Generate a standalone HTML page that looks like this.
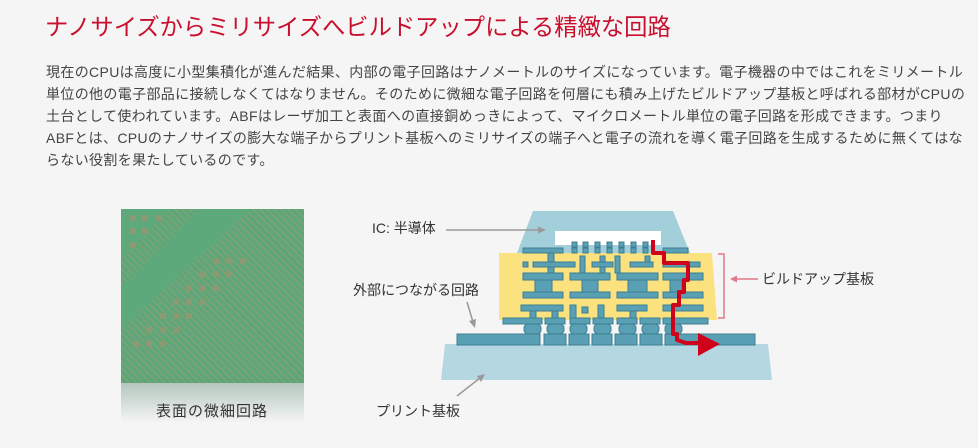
<!DOCTYPE html>
<html><head><meta charset="utf-8"><style>
body{margin:0;width:978px;height:448px;background:#f5f5f5;overflow:hidden;position:relative;font-family:"Liberation Sans","Noto Sans CJK JP",sans-serif;}
h1{position:absolute;left:45px;top:8px;margin:0;font-size:23.3px;font-weight:normal;color:#c8102e;white-space:nowrap;}
.p{position:absolute;left:46px;top:61px;font-size:14px;letter-spacing:0.35px;line-height:22px;color:#444;}
.p div{white-space:nowrap;}
svg{position:absolute;left:0;top:0;}
</style></head><body>
<h1>ナノサイズからミリサイズへビルドアップによる精緻な回路</h1>
<div class="p">
<div>現在のCPUは高度に小型集積化が進んだ結果、内部の電子回路はナノメートルのサイズになっています。電子機器の中ではこれをミリメートル</div>
<div>単位の他の電子部品に接続しなくてはなりません。そのために微細な電子回路を何層にも積み上げたビルドアップ基板と呼ばれる部材がCPUの</div>
<div>土台として使われています。ABFはレーザ加工と表面への直接銅めっきによって、マイクロメートル単位の電子回路を形成できます。つまり</div>
<div>ABFとは、CPUのナノサイズの膨大な端子からプリント基板へのミリサイズの端子へと電子の流れを導く電子回路を生成するために無くてはな</div>
<div>らない役割を果たしているのです。</div>
</div>
<svg width="978" height="448" viewBox="0 0 978 448">
<defs>
<linearGradient id="fade" x1="0" y1="0" x2="0" y2="1">
<stop offset="0" stop-color="#8aa89a"/><stop offset="1" stop-color="#f5f5f5"/>
</linearGradient>
<pattern id="lines" width="5" height="5" patternUnits="userSpaceOnUse" patternTransform="rotate(-45)">
<rect width="5" height="5" fill="#5aa67a"/><rect width="1.5" height="5" fill="#88a070"/>
</pattern>
</defs>
<rect x="121" y="209" width="183" height="174" fill="#5ea97c"/>
<polygon points="121,330 250,209 304,209 304,383 121,383" fill="url(#lines)" opacity="0.85"/>
<polygon points="121,260 170,209 200,209 121,288" fill="url(#lines)" opacity="0.8"/>
<g fill="#8b9a72">
<rect x="130" y="215" width="6" height="6"/><rect x="142" y="215" width="6" height="6"/><rect x="156" y="215" width="6" height="6"/>
<rect x="130" y="228" width="6" height="6"/><rect x="142" y="228" width="6" height="6"/><rect x="130" y="242" width="6" height="6"/>
<rect x="213" y="258" width="6" height="6"/><rect x="226" y="258" width="6" height="6"/><rect x="240" y="258" width="6" height="6"/>
<rect x="200" y="271" width="6" height="6"/><rect x="213" y="271" width="6" height="6"/><rect x="226" y="271" width="6" height="6"/>
<rect x="186" y="285" width="6" height="6"/><rect x="200" y="285" width="6" height="6"/><rect x="213" y="285" width="6" height="6"/>
<rect x="173" y="299" width="6" height="6"/><rect x="186" y="299" width="6" height="6"/><rect x="200" y="299" width="6" height="6"/>
<rect x="160" y="313" width="6" height="6"/><rect x="173" y="313" width="6" height="6"/><rect x="186" y="313" width="6" height="6"/>
<rect x="146" y="327" width="6" height="6"/><rect x="160" y="327" width="6" height="6"/><rect x="173" y="327" width="6" height="6"/>
<rect x="133" y="341" width="6" height="6"/><rect x="146" y="341" width="6" height="6"/><rect x="160" y="341" width="6" height="6"/>
</g>
<rect x="121" y="383" width="183" height="40" fill="url(#fade)" opacity="0.6"/>
<text x="212" y="416" font-size="15" text-anchor="middle" fill="#333" letter-spacing="1">表面の微細回路</text>

<polygon points="445,344 768,344 772,380 441,380" fill="#b5d7e1"/>
<polygon points="533,211 673,211 690,253 517,253" fill="#a3cfdb"/>
<rect x="555" y="231" width="106" height="14" fill="#fff"/>
<polygon points="499,253 712,253 717,320 499,320" fill="#fbe27f"/>
<g fill="#5aa0b4" stroke="#3e7e92" stroke-width="1">
<rect x="457" y="334" width="83" height="11"/><rect x="544" y="334" width="22" height="11"/><rect x="569" y="334" width="20" height="11"/><rect x="592" y="334" width="20" height="11"/><rect x="615" y="334" width="22" height="11"/><rect x="640" y="334" width="22" height="11"/><rect x="665" y="334" width="90" height="11"/>
<rect x="524" y="324" width="17" height="10" rx="4"/><rect x="547" y="324" width="17" height="10" rx="4"/><rect x="570" y="324" width="17" height="10" rx="4"/><rect x="594" y="324" width="17" height="10" rx="4"/><rect x="619" y="324" width="17" height="10" rx="4"/><rect x="642" y="324" width="17" height="10" rx="4"/><rect x="665" y="324" width="17" height="10" rx="4"/>
<rect x="503" y="318" width="39" height="6"/><rect x="545" y="318" width="20" height="6"/><rect x="570" y="318" width="20" height="6"/><rect x="593" y="318" width="20" height="6"/><rect x="617" y="318" width="20" height="6"/><rect x="640" y="318" width="20" height="6"/><rect x="663" y="318" width="45" height="6"/>
<rect x="521" y="305" width="42" height="6"/><rect x="617" y="305" width="30" height="6"/><rect x="663" y="305" width="40" height="6"/>
<rect x="570" y="305" width="6" height="13"/><rect x="582" y="307" width="6" height="6"/><rect x="598" y="305" width="6" height="13"/><rect x="630" y="311" width="6" height="7"/><rect x="530" y="311" width="6" height="7"/><rect x="552" y="311" width="6" height="7"/>
<rect x="523" y="292" width="40" height="6"/><rect x="570" y="292" width="40" height="6"/><rect x="617" y="292" width="41" height="6"/><rect x="663" y="292" width="40" height="6"/>
<rect x="535" y="280" width="17" height="12"/><rect x="582" y="280" width="16" height="12"/><rect x="628" y="280" width="19" height="12"/><rect x="670" y="280" width="12" height="12"/>
<rect x="523" y="273" width="40" height="7"/><rect x="570" y="273" width="40" height="7"/><rect x="617" y="273" width="41" height="7"/><rect x="663" y="273" width="40" height="7"/>
<rect x="533" y="262" width="42" height="5"/><rect x="592" y="262" width="21" height="5"/><rect x="630" y="262" width="23" height="5"/><rect x="663" y="262" width="37" height="5"/><rect x="523" y="262" width="5" height="5"/>
<rect x="548" y="253" width="6" height="9"/><rect x="580" y="256" width="5" height="17"/><rect x="600" y="256" width="5" height="6"/><rect x="615" y="256" width="5" height="17"/><rect x="645" y="256" width="5" height="6"/><rect x="548" y="267" width="6" height="6"/><rect x="600" y="267" width="5" height="6"/>
<rect x="523" y="248" width="40" height="5"/><rect x="663" y="248" width="25" height="5"/>
<rect x="572" y="242" width="5" height="5"/><rect x="583" y="242" width="5" height="5"/><rect x="595" y="242" width="5" height="5"/><rect x="607" y="242" width="5" height="5"/><rect x="619" y="242" width="5" height="5"/><rect x="631" y="242" width="5" height="5"/><rect x="643" y="242" width="5" height="5"/>
<rect x="572" y="248" width="5" height="5"/><rect x="583" y="248" width="5" height="5"/><rect x="595" y="248" width="5" height="5"/><rect x="607" y="248" width="5" height="5"/><rect x="619" y="248" width="5" height="5"/><rect x="631" y="248" width="5" height="5"/><rect x="643" y="248" width="5" height="5"/>
</g>
<polyline points="653,240 653,253 664,253 664,263 688,263 688,280 684,280 684,292 679,292 679,305 673,305 673,334 677,334 677,340 686,343 703,343" fill="none" stroke="#d0021b" stroke-width="4" stroke-linejoin="round"/>
<polygon points="698,333 720,344 698,356" fill="#d0021b"/>
<polyline points="718,254 724,254 724,318 718,318" fill="none" stroke="#e07a8a" stroke-width="1.5"/>
<line x1="758" y1="279" x2="734" y2="279" stroke="#e07a8a" stroke-width="1.5"/>
<polygon points="730,279 737,275.5 737,282.5" fill="#e07a8a"/>
<text x="762" y="284" font-size="14" fill="#333">ビルドアップ基板</text>
<text x="372" y="233" font-size="14" fill="#333">IC: 半導体</text>
<line x1="446" y1="230" x2="540" y2="230" stroke="#999" stroke-width="1.5"/>
<polygon points="546,230 538,226.5 538,233.5" fill="#999"/>
<text x="353" y="295" font-size="14" fill="#333">外部につながる回路</text>
<line x1="467" y1="302" x2="473" y2="322" stroke="#999" stroke-width="1.5"/>
<polygon points="475,328 469,321 476,319" fill="#999"/>
<text x="376" y="416" font-size="14" fill="#333">プリント基板</text>
<line x1="457" y1="396" x2="480" y2="378" stroke="#999" stroke-width="1.5"/>
<polygon points="485,374 477,376 481,382" fill="#999"/>
</svg>
</body></html>
